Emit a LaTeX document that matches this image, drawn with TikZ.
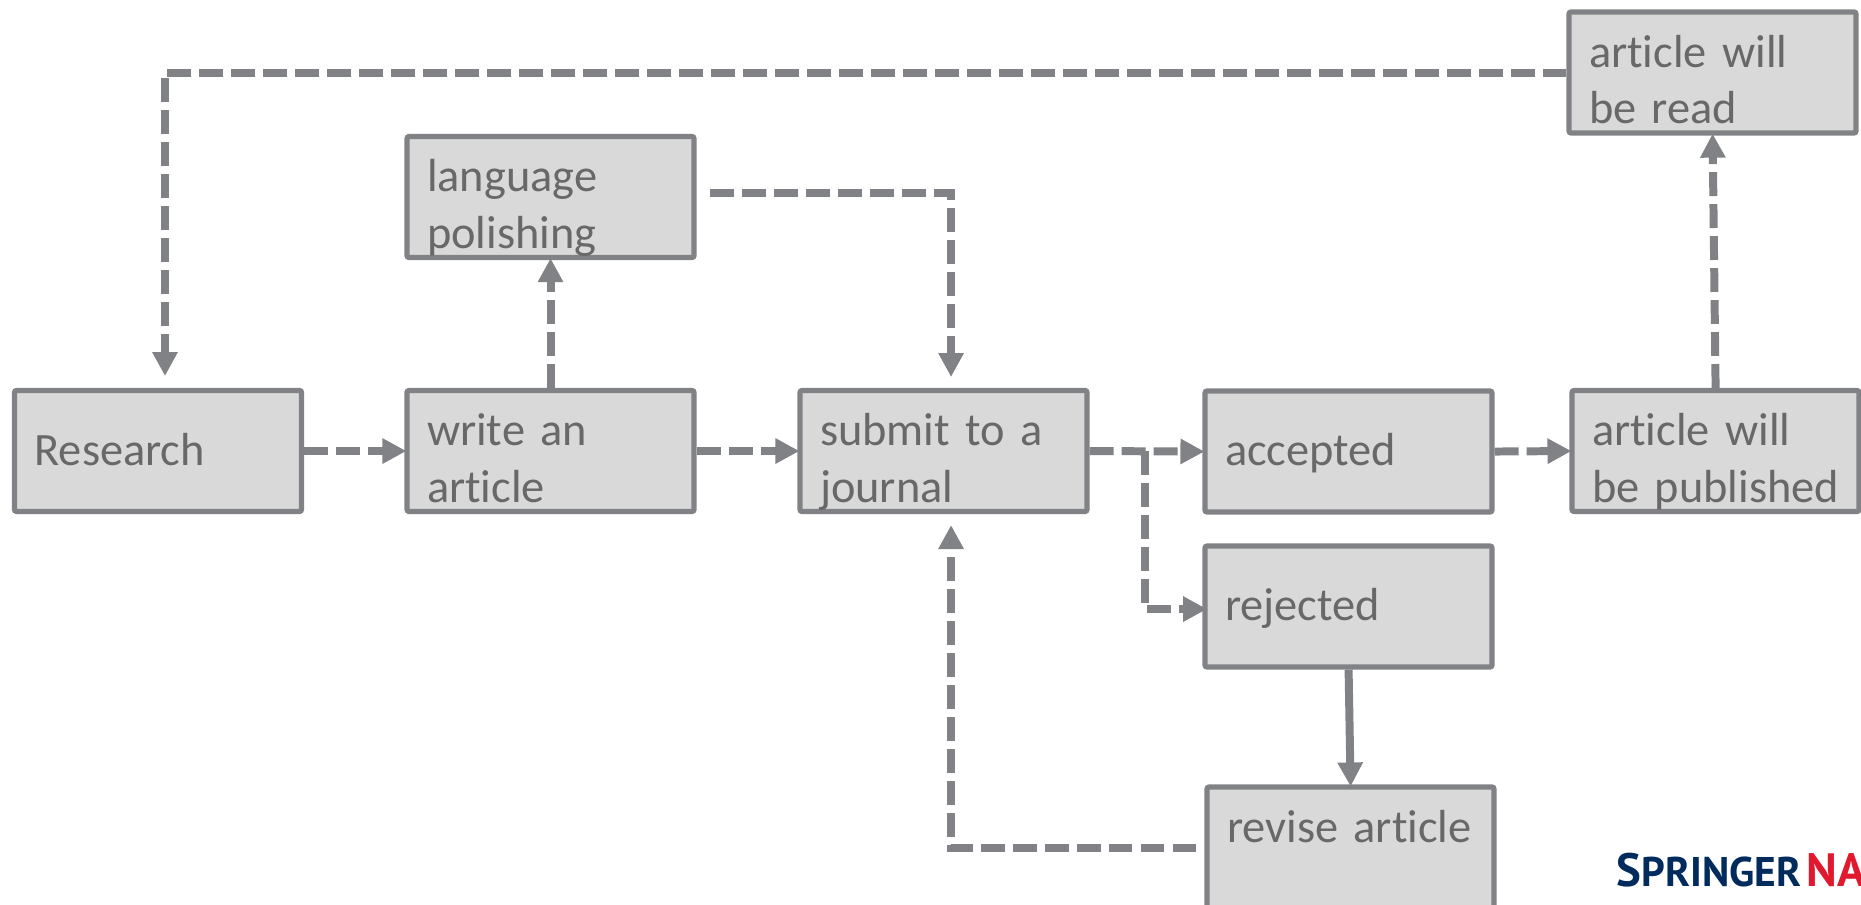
\documentclass[tikz,border=0pt]{standalone}
\usepackage{fontspec}
\setmainfont{Carlito}[WordSpace=0.65,Ligatures=NoCommon]
\newfontfamily\logofont{PT Sans}
\usetikzlibrary{arrows.meta}
\definecolor{boxfill}{HTML}{D9D9D9}
\definecolor{boxline}{HTML}{808285}
\definecolor{boxtext}{HTML}{686868}
\definecolor{logonavy}{HTML}{002B5C}
\definecolor{logored}{HTML}{E0192F}

\begin{document}
\begin{tikzpicture}[scale=0.1]
          \tikzstyle{every node}+=[inner sep=0pt]
          \tikzstyle{stage}=[draw=boxline, fill=boxfill, line width=1.5pt, rounded corners=0.6pt, minimum width=2.87cm, minimum height=1.21cm, text width=2.47cm, align=left, text=boxtext, font=\fontsize{13.2}{16.2}\selectfont]
          \tikzstyle{oneline}=[stage, text height=0.28cm, text depth=0cm]
          \tikzstyle{twoline}=[stage, text height=0.28cm, text depth=0.39cm]
          \tikzstyle{link}=[draw=boxline, line width=2.27pt, dash pattern=on 6.8pt off 2.3pt, shorten >=-0.2mm, -{Triangle[length=2.4mm,width=2.4mm]}]
          \tikzstyle{solidlink}=[draw=boxline, line width=2.27pt, shorten >=-0.2mm, -{Triangle[length=2.4mm,width=2.4mm]}]
          \clip (0,0) rectangle (186.1,-90.4);
          \node [oneline] (research) at (15.8,-45.1) {Research};
          \node [twoline] (write) at (55.05,-45.1) {write an\\article};
          \node [twoline] (language) at (55.05,-19.7) {language\\polishing};
          \node [twoline] (submit) at (94.35,-45.1) {submit to a\\journal};
          \node [oneline] (accepted) at (134.85,-45.15) {accepted};
          \node [oneline] (rejected) at (134.85,-60.65) {rejected};
          \node [twoline] (revise) at (135.05,-84.75) {revise article};
          \node [twoline] (published) at (171.55,-45.1) {article will\\\mbox{be published}};
          \node [twoline] (read) at (171.25,-7.25) {article will\\be read};
          \coordinate (researchtop) at (16.5,-37.4);
          \coordinate (submittop) at (95.1,-37.5);
          \coordinate (submitbottom) at (95.1,-52.7);
          \coordinate (branch) at (114.5,-45.1);
          \coordinate (languageout) at (71,-19.3);
          \coordinate (rejectedin) at (120.5,-60.9);
          \draw [link] (research.east) -- (write.west);
          \draw [link] (write.north) -- (language.south);
          \draw [link] (write.east) -- (submit.west);
          \draw [link] (languageout) -| (submittop);
          \draw [link] (submit.east) -- (accepted.west);
          \draw [link] (branch) |- (rejectedin);
          \draw [link] (accepted.east) -- (published.west);
          \draw [link] (published.north) -- (read.south);
          \draw [link] (read.west) -| (researchtop);
          \draw [solidlink] (rejected.south) -- (revise.north);
          \draw [link, shorten <=0.8mm] (revise.west) -| (submitbottom);
          \node [anchor=base west, text=logonavy, font=\logofont\bfseries] (logo) at (161.6,-88.6) {\fontsize{13.3}{12}\selectfont S\fontsize{11.8}{12}\selectfont PRINGER};
          \node [anchor=base west, text=logored, font=\logofont\bfseries] (logotwo) at (180.6,-88.6) {\fontsize{13.3}{12}\selectfont NA};
        \end{tikzpicture}
\end{document}
